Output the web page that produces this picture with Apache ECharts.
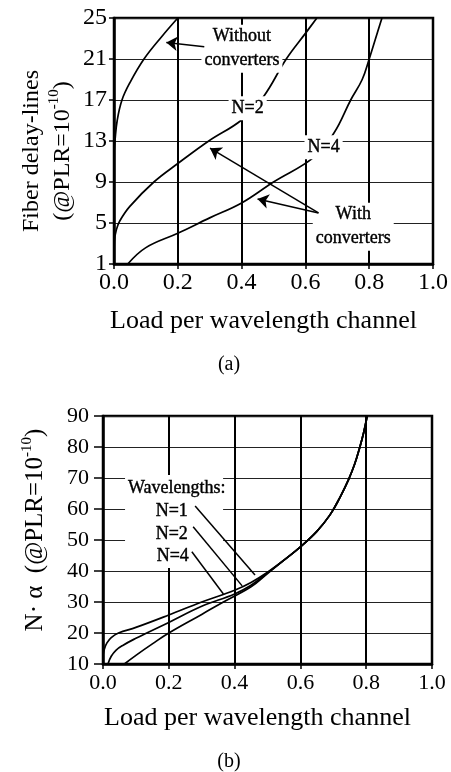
<!DOCTYPE html>
<html>
<head>
<meta charset="utf-8">
<script src="https://cdn.jsdelivr.net/npm/echarts@6.0.0/dist/echarts.min.js"></script>
<style>
  html, body { margin: 0; padding: 0; background: #fff; }
  #chart { width: 451px; height: 772px; }
</style>
</head>
<body>
<div id="chart"></div>
<script>
// ---- data: panel (a) ----
const loadWithoutX = [0, 0.003, 0.01, 0.025, 0.05, 0.094, 0.15, 0.2];
const fdlWithout = [11.8, 13, 15, 17, 18.7, 21, 23.2, 25];

const loadN2X = [0, 0.001, 0.008, 0.018, 0.049, 0.125, 0.2, 0.297, 0.4, 0.468, 0.54, 0.6, 0.636];
const fdlN2 = [1, 3.2, 4.4, 5.2, 6.6, 9, 10.8, 13, 15.05, 17.3, 21, 23.5, 25];

const loadN4X = [0.043, 0.1, 0.2, 0.3, 0.4, 0.5, 0.626, 0.69, 0.742, 0.778, 0.8, 0.82, 0.84];
const fdlN4 = [1, 2.6, 4.0, 5.5, 6.95, 9, 11.4, 13.8, 17, 19, 21, 23, 25];

// ---- data: panel (b) ----
const loadB1X = [0, 0.004, 0.012, 0.025, 0.047, 0.1, 0.2, 0.3, 0.4, 0.45, 0.5, 0.55, 0.6, 0.65, 0.69, 0.72, 0.746, 0.765, 0.781, 0.792, 0.803];
const naB1 = [12.8, 14.8, 16.8, 18.5, 20, 21.8, 25.8, 30, 33.8, 36.3, 39.6, 43.5, 47.8, 52.8, 58.1, 63.7, 69.4, 74.5, 80.1, 84.5, 90];

const loadB2X = [0.015, 0.025, 0.04, 0.06, 0.1, 0.133, 0.2, 0.3, 0.4, 0.45, 0.5, 0.55, 0.6, 0.65, 0.69, 0.72, 0.746, 0.765, 0.781, 0.792, 0.803];
const naB2 = [10, 12.5, 14.5, 16, 18.3, 20, 23.4, 28.6, 32.6, 35.4, 39.4, 43.5, 47.8, 52.8, 58.1, 63.7, 69.4, 74.5, 80.1, 84.5, 90];

const loadB4X = [0.065, 0.1, 0.15, 0.2, 0.3, 0.366, 0.45, 0.5, 0.55, 0.6, 0.65, 0.69, 0.72, 0.746, 0.765, 0.781, 0.792, 0.803];
const naB4 = [10, 12.8, 16.5, 20, 26, 30, 34.9, 39.2, 43.5, 47.8, 52.8, 58.1, 63.7, 69.4, 74.5, 80.1, 84.5, 90];

// ---- axes ticks ----
const xTicks = [0, 1, 0.2];      // min, max, step
const yTicksA = [1, 25, 4];
const yTicksB = [10, 90, 10];

// ---- annotations: [x, y, text] and arrows [x1, y1, x2, y2] ----
const notesA = [
  [0.401, 22.0, 'Without\nconverters'],
  [0.419, 16.2, 'N=2'],
  [0.657, 12.4, 'N=4'],
  [0.75, 4.64, 'With\nconverters']
];
const arrowsA = [
  [0.283, 22.2, 0.164, 22.6],
  [0.641, 5.98, 0.301, 12.3],
  [0.641, 5.98, 0.45, 7.34]
];
const notesB = [
  [0.224, 66.7, 'Wavelengths:'],
  [0.209, 59.4, 'N=1'],
  [0.209, 52.0, 'N=2'],
  [0.212, 44.6, 'N=4']
];
const pointersB = [
  [0.28, 61, 0.462, 38.7],
  [0.274, 54.3, 0.423, 35.2],
  [0.27, 46.2, 0.366, 32.6]
];
const maskB = [[0.067, 71], [0.365, 41]];

const FONT = '"Liberation Serif", "Times New Roman", serif';

function zip(xs, ys) {
  return xs.map((x, i) => [x, ys[i]]);
}

function curve(xs, ys, idx) {
  return {
    type: 'line',
    xAxisIndex: idx,
    yAxisIndex: idx,
    data: zip(xs, ys),
    showSymbol: false,
    smooth: 0.4,
    lineStyle: { color: '#000', width: 1.7 },
    z: 3
  };
}

function notes(list, idx, extra) {
  return {
    type: 'scatter',
    xAxisIndex: idx,
    yAxisIndex: idx,
    symbolSize: 1,
    itemStyle: { color: '#fff' },
    z: 6,
    silent: true,
    label: Object.assign({
      show: true,
      position: 'inside',
      color: '#000',
      opacity: 1,
      textBorderColor: '#000',
      textBorderWidth: 0.4,
      fontFamily: FONT,
      fontSize: 18,
      lineHeight: 24,
      backgroundColor: '#fff',
      padding: [0, 3]
    }, extra || {}),
    data: list.map(n => ({ value: [n[0], n[1]], label: { formatter: n[2] } }))
  };
}

function arrows(list, idx, head) {
  return {
    type: 'lines',
    coordinateSystem: 'cartesian2d',
    xAxisIndex: idx,
    yAxisIndex: idx,
    symbol: head ? ['none', 'arrow'] : 'none',
    symbolSize: [0, 11],
    lineStyle: { color: '#000', width: 1.5, opacity: 1, curveness: 0 },
    z: 7,
    silent: true,
    data: list.map(a => ({ coords: [[a[0], a[1]], [a[2], a[3]]] }))
  };
}

function xAxis(idx, fs, margin, gap) {
  return {
    type: 'value',
    gridIndex: idx,
    min: xTicks[0], max: xTicks[1], interval: xTicks[2],
    name: 'Load per wavelength channel',
    nameLocation: 'middle',
    nameGap: gap,
    nameMoveOverlap: false,
    nameTextStyle: { color: '#000', fontFamily: FONT, fontSize: 26, padding: [0, 20, 0, 0] },
    axisLine: { lineStyle: { color: '#000', width: 2.5 } },
    axisTick: { show: true, inside: false, length: 5, lineStyle: { color: '#000', width: 1.5 } },
    axisLabel: { color: '#000', fontFamily: FONT, fontSize: fs, margin: margin, formatter: v => v.toFixed(1) },
    splitLine: { show: true, lineStyle: { color: '#000', width: 2 } }
  };
}

function yAxis(idx, ticks, fs, margin, name, gap, nameStyle, tickLen) {
  return {
    type: 'value',
    gridIndex: idx,
    min: ticks[0], max: ticks[1], interval: ticks[2],
    name: name,
    nameLocation: 'middle',
    nameRotate: 90,
    nameGap: gap,
    nameMoveOverlap: false,
    nameTextStyle: nameStyle,
    axisLine: { lineStyle: { color: '#000', width: 2.5 } },
    axisTick: { show: true, inside: false, length: tickLen, lineStyle: { color: '#000', width: 1.5 } },
    axisLabel: { color: '#000', fontFamily: FONT, fontSize: fs, margin: margin },
    splitLine: { show: true, lineStyle: { color: '#222', width: 1 } }
  };
}

const chart = echarts.init(document.getElementById('chart'));

chart.setOption({
  animation: false,
  backgroundColor: '#fff',
  grid: [
    { left: 114, top: 18, width: 329, height: 246, show: true, borderColor: '#000', borderWidth: 2.5, backgroundColor: 'transparent' },
    { left: 103, top: 416, width: 329, height: 248, show: true, borderColor: '#000', borderWidth: 2.5, backgroundColor: 'transparent' }
  ],
  xAxis: [xAxis(0, 24, 7, 44), xAxis(1, 22, 8, 41)],
  yAxis: [
    yAxis(0, yTicksA, 24, 7,
      '{t|Fiber delay-lines}\n{t|(@PLR=10}{sup|-10}{t|)}', 36,
      {
        color: '#000', fontFamily: FONT, fontSize: 24, lineHeight: 31, padding: [0, 20, 0, 0],
        rich: {
          t: { color: '#000', fontFamily: FONT, fontSize: 24, lineHeight: 31 },
          sup: { color: '#000', fontFamily: FONT, fontSize: 15, verticalAlign: 'top', lineHeight: 18 }
        }
      }, 5),
    yAxis(1, yTicksB, 22, 14,
      '{t|N\u00b7 \u03b1  (@PLR=10}{sup|-10}{t|)}', 53,
      {
        color: '#000', fontFamily: FONT, fontSize: 25, padding: [0, 0, 0, 20],
        rich: {
          t: { color: '#000', fontFamily: FONT, fontSize: 25, lineHeight: 30 },
          sup: { color: '#000', fontFamily: FONT, fontSize: 15, verticalAlign: 'top', lineHeight: 18 }
        }
      }, 9)
  ],
  graphic: [
    { type: 'text', x: 229, y: 365, style: { text: '(a)', font: '20px ' + FONT, fill: '#000', textAlign: 'center', textVerticalAlign: 'middle' } },
    { type: 'text', x: 229, y: 762, style: { text: '(b)', font: '20px ' + FONT, fill: '#000', textAlign: 'center', textVerticalAlign: 'middle' } }
  ],
  series: [
    curve(loadWithoutX, fdlWithout, 0),
    curve(loadN2X, fdlN2, 0),
    curve(loadN4X, fdlN4, 0),
    notes(notesA, 0),
    arrows(arrowsA, 0, true),
    curve(loadB1X, naB1, 1),
    curve(loadB2X, naB2, 1),
    curve(loadB4X, naB4, 1),
    {
      type: 'scatter',
      xAxisIndex: 1,
      yAxisIndex: 1,
      data: [],
      z: 4,
      silent: true,
      markArea: {
        silent: true,
        itemStyle: { color: '#fff', opacity: 1 },
        data: [[{ coord: maskB[0] }, { coord: maskB[1] }]]
      }
    },
    notes(notesB, 1, { backgroundColor: 'transparent' }),
    arrows(pointersB, 1, false)
  ]
});

window.addEventListener('resize', () => chart.resize());
</script>
</body>
</html>
